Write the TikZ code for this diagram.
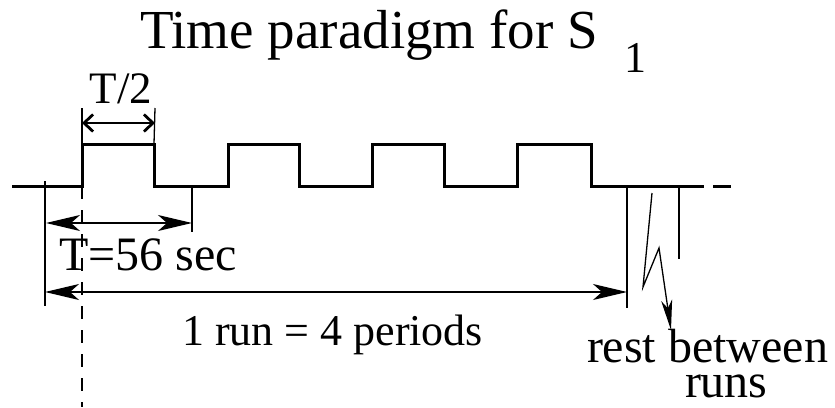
\documentclass[tikz,border=0pt]{standalone}
\usepackage{fontspec}
\setmainfont{Liberation Serif}
\usetikzlibrary{arrows.meta}
\newcommand\myfs[1]{\fontsize{#1}{#1}\selectfont}
\begin{document}
\begin{tikzpicture}[x=1pt,y=-1pt,
  wave/.style={line width=3pt, line join=miter},
  thinline/.style={line width=1.3pt},
  dimarrow/.style={line width=1.3pt, {Stealth[length=34pt,width=16pt,inset=9pt]}-{Stealth[length=34pt,width=16pt,inset=9pt]}},
  halfarrow/.style={line width=2.8pt, {Straight Barb[length=9pt,width=17pt]}-{Straight Barb[length=9pt,width=17pt]}},
  restarrow/.style={line width=1.3pt, line join=miter, -{Stealth[length=30pt,width=11pt,inset=8pt]}},
  dashline/.style={line width=1.3pt, dash pattern=on 13pt off 11pt},
  lbl/.style={inner sep=0pt, outer sep=0pt, anchor=base west}
]
\useasboundingbox (0,0) rectangle (835,407);

% labels
\node[lbl] (title) at (140,48) {\myfs{55}Time paradigm for S};
\node[lbl] (sub) at (624,72) {\myfs{44}1};
\node[inner sep=0pt, anchor=base] (half) at (121,103) {\myfs{45}T/2};
\node[lbl] (period) at (59,270) {\myfs{48}T=56 sec};
\node[lbl] (run) at (182,345) {\myfs{44}1 run = 4 periods};
\node[lbl, align=left, font=\fontsize{48}{35}\selectfont] (rest) at (587,397)
  {rest between\\\hspace*{98pt}runs};

% waveform
\coordinate (w0) at (12,186);
\coordinate (r1) at (82,186);  \coordinate (r1h) at (82,144);
\coordinate (f1h) at (154,144); \coordinate (f1) at (154,186);
\coordinate (r2) at (228,186); \coordinate (r2h) at (228,144);
\coordinate (f2h) at (299,144); \coordinate (f2) at (299,186);
\coordinate (r3) at (372,186); \coordinate (r3h) at (372,144);
\coordinate (f3h) at (444,144); \coordinate (f3) at (444,186);
\coordinate (r4) at (517,186); \coordinate (r4h) at (517,144);
\coordinate (f4h) at (591,144); \coordinate (f4) at (591,186);
\coordinate (wend) at (704,186);
\draw[wave] (w0) -- (r1) -- (r1h) -- (f1h) -- (f1) -- (r2) -- (r2h) -- (f2h) -- (f2)
  -- (r3) -- (r3h) -- (f3h) -- (f3) -- (r4) -- (r4h) -- (f4h) -- (f4) -- (wend);
\coordinate (d1) at (713,186); \coordinate (d2) at (731,186);
\draw[wave] (d1) -- (d2);

% T/2 dimension
\coordinate (ht1) at (82,108); \coordinate (ht2) at (155,108);
\coordinate (ha1) at (82,123); \coordinate (ha2) at (155,123);
\draw[thinline] (ht1) -- (r1h);
\draw[thinline] (ht2) -- (f1h);
\draw[halfarrow] (ha1) -- (ha2);

% ticks
\coordinate (lt1) at (45,181); \coordinate (lt2) at (45,306);
\coordinate (pt1) at (192,186); \coordinate (pt2) at (192,232);
\coordinate (rt1) at (627,187); \coordinate (rt2) at (627,308);
\coordinate (st1) at (679,187); \coordinate (st2) at (679,259);
\draw[thinline] (lt1) -- (lt2);
\draw[thinline] (pt1) -- (pt2);
\draw[thinline] (rt1) -- (rt2);
\draw[thinline] (st1) -- (st2);

% dashed reference line
\coordinate (dl) at (82,407);
\draw[dashline] (r1) -- (dl);

% period and run arrows
\coordinate (pa1) at (46,223); \coordinate (pa2) at (192,223);
\draw[dimarrow] (pa1) -- (pa2);
\coordinate (ra1) at (45,292); \coordinate (ra2) at (627,292);
\draw[dimarrow] (ra1) -- (ra2);

% rest zigzag arrow
\coordinate (z1) at (652,193); \coordinate (z2) at (643,287);
\coordinate (z3) at (659,248); \coordinate (z4) at (671,330);
\draw[restarrow] (z1) -- (z2) -- (z3) -- (z4);
\end{tikzpicture}
\end{document}
